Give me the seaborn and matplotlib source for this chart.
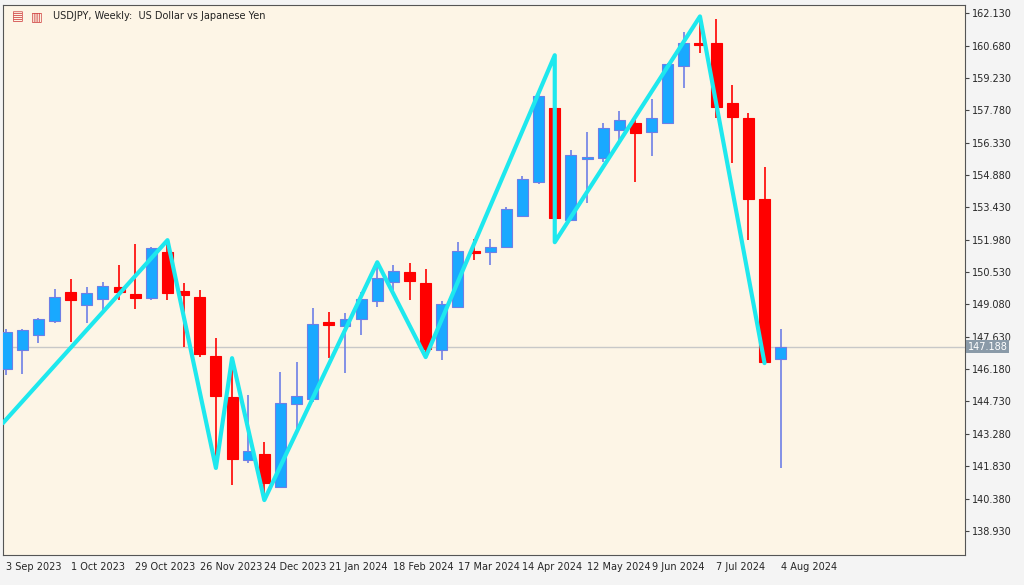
import matplotlib
matplotlib.use("Agg")
import matplotlib.pyplot as plt
import seaborn as sns
import numpy as np
import pandas as pd

opens  = [146.18,147.03,147.70,148.33,149.63,149.05,149.31,149.85,149.54,149.36,151.42,149.67,149.40,146.76,144.92,142.10,142.37,140.89,144.61,144.83,
          148.28,148.10,148.42,149.22,150.08,150.53,150.03,147.03,148.96,151.47,151.42,151.65,153.03,154.56,157.87,152.85,155.60,155.63,156.89,157.20,
          156.80,157.20,159.76,160.82,160.79,158.10,157.43,153.80,146.63]
highs  = [148.00,148.00,148.46,149.76,150.21,149.85,150.08,150.84,151.78,151.65,151.96,150.03,149.72,147.57,146.67,145.01,142.91,146.04,146.49,148.91,
          148.73,148.69,149.63,150.97,150.84,150.93,150.66,149.22,151.87,152.00,152.00,153.44,154.83,158.50,160.25,155.99,156.80,157.20,157.74,157.34,
          158.28,159.90,161.30,161.99,161.86,158.90,157.65,155.23,147.97]
lows   = [145.90,145.95,147.34,148.24,147.39,148.24,148.78,149.27,148.87,149.30,149.27,147.16,146.72,141.75,140.98,141.97,140.31,140.89,143.44,144.70,
          146.67,146.00,147.70,148.96,149.72,149.27,146.72,146.58,148.90,151.06,150.84,151.60,152.98,154.50,151.87,152.80,153.62,155.45,156.35,154.56,
          155.72,157.15,158.77,160.34,157.43,155.41,151.96,146.45,141.74]
closes = [147.83,147.92,148.42,149.40,149.27,149.58,149.90,149.63,149.36,151.60,149.58,149.49,146.85,144.97,142.15,142.50,141.07,144.66,144.97,148.19,
          148.15,148.42,149.31,150.26,150.57,150.12,147.07,149.09,151.47,151.38,151.65,153.35,154.69,158.41,152.94,155.77,155.68,156.98,157.34,156.76,
          157.43,159.85,160.82,160.73,157.92,157.47,153.80,146.49,147.19]
zz_idx = [-0.2, 10, 13, 14, 16, 23, 26, 34, 34, 43, 47]
zz_val = [143.76, 151.96, 141.75, 146.67, 140.31, 150.97, 146.72, 160.25, 151.87, 161.99, 146.45]
date_labels = ["3 Sep 2023","1 Oct 2023","29 Oct 2023","26 Nov 2023","24 Dec 2023","21 Jan 2024","18 Feb 2024",
               "17 Mar 2024","14 Apr 2024","12 May 2024","9 Jun 2024","7 Jul 2024","4 Aug 2024"]
price_ticks = [138.93,140.38,141.83,143.28,144.73,146.18,147.63,149.08,150.53,151.98,153.43,154.88,156.33,157.78,159.23,160.68,162.13]
last_price = 147.188

sns.set_style("white")
plt.rcParams['font.family'] = ['DejaVu Sans']

df = pd.DataFrame({"i": np.arange(len(opens)), "o": opens, "h": highs, "l": lows, "c": closes})
df["up"] = df.c >= df.o

fig = plt.figure(figsize=(10.24, 5.85), dpi=100, facecolor="#f4f4f4")
ax = fig.add_axes([0.003, 0.051, 0.939, 0.940])
ax.set_facecolor("#fdf5e6")

ax.axhline(last_price, color="#c8c8c8", lw=1, zorder=1)

blue, blue_w, red = "#19a9ff", "#6d7fe6", "#ff0000"
for _, r in df.iterrows():
    col = blue if r.up else red
    wc = blue_w if r.up else red
    ax.vlines(r.i, r.l, r.h, color=wc, lw=1.2, zorder=2)
    lo, hi = min(r.o, r.c), max(r.o, r.c)
    ax.bar(r.i, max(hi - lo, 0.08), bottom=lo, width=0.68, color=col,
           edgecolor=blue_w if r.up else red, linewidth=0.8, zorder=3)

zz = pd.DataFrame({"x": zz_idx, "y": zz_val, "k": np.arange(len(zz_idx))})
sns.lineplot(data=zz, x="x", y="y", ax=ax, color="#1ee8ee", lw=3, sort=False, estimator=None, zorder=4)

ax.set_xlim(-0.19, 59.4)
ax.set_ylim(137.84, 162.49)
ax.set_xlabel("")
ax.set_ylabel("")
ax.yaxis.tick_right()
ax.set_yticks(price_ticks)
ax.set_yticklabels([f"{p:.3f}" for p in price_ticks], fontsize=7)
ax.set_xticks(np.arange(0, 49, 4))
ax.set_xticklabels(date_labels, fontsize=7, ha="left")
ax.tick_params(axis="both", length=3, color="#444444", pad=2)
for s in ax.spines.values():
    s.set_color("#555555")
    s.set_linewidth(0.8)

ax.text(1.003, last_price, f"{last_price:.3f}", transform=ax.get_yaxis_transform(),
        fontsize=7, color="white", va="center", ha="left",
        bbox=dict(boxstyle="square,pad=0.15", fc="#8a9aa8", ec="none"), zorder=6, clip_on=False)

fig.text(0.052, 0.972, "USDJPY, Weekly:  US Dollar vs Japanese Yen", fontsize=7, va="center", color="#222222")
fig.text(0.012, 0.972, "▤", fontsize=9, va="center", color="#d04040")
fig.text(0.030, 0.972, "▥", fontsize=9, va="center", color="#d04040")

fig.savefig("out.png", dpi=100, facecolor=fig.get_facecolor())
